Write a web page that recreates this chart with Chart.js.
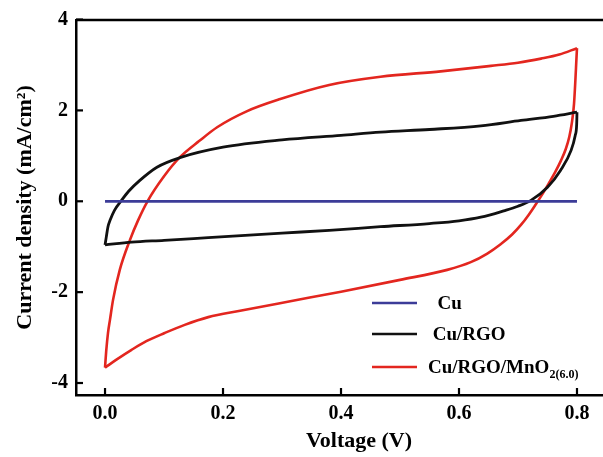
<!DOCTYPE html>
<html>
<head>
<meta charset="utf-8">
<script src="https://cdn.jsdelivr.net/npm/chart.js@4/dist/chart.umd.min.js"></script>
<style>
html,body{margin:0;padding:0;overflow:hidden;background:#fff;}
canvas{display:block;}
</style>
</head>
<body>
<canvas id="c" width="642" height="457"></canvas>
<script>
// ---- data ----
const seriesNames = ['  Cu', ' Cu/RGO', 'Cu/RGO/MnO_{2(6.0)}'];
const seriesColors = ['#3c3c98', '#111111', '#e3261f'];

// Cu (flat line)
const cuVoltage = [0, 0.2, 0.4, 0.6, 0.8];
const cuCurrent = [0, 0, 0, 0, 0];

// Cu/RGO: anodic (upper) sweep and cathodic (lower) sweep, both listed by rising voltage
const rgoUpVoltage = [0, 0.002, 0.005, 0.0085, 0.016, 0.028, 0.04, 0.059, 0.088, 0.127, 0.2, 0.3, 0.4, 0.467, 0.55, 0.637, 0.705, 0.76, 0.8];
const rgoUpCurrent = [-0.96, -0.8, -0.56, -0.42, -0.2, 0.02, 0.22, 0.46, 0.75, 0.96, 1.19, 1.35, 1.45, 1.52, 1.58, 1.66, 1.78, 1.87, 1.96];
const rgoDownVoltage = [0, 0.045, 0.1, 0.175, 0.3, 0.38, 0.467, 0.55, 0.6, 0.637, 0.676, 0.7, 0.722, 0.75, 0.772, 0.79, 0.797, 0.7995, 0.8];
const rgoDownCurrent = [-0.96, -0.9, -0.86, -0.8, -0.7, -0.64, -0.56, -0.49, -0.43, -0.35, -0.21, -0.11, 0.02, 0.31, 0.68, 1.12, 1.45, 1.7, 1.96];

// Cu/RGO/MnO2(6.0)
const mnoUpVoltage = [0, 0.002, 0.005, 0.0085, 0.0136, 0.025, 0.042, 0.056, 0.072, 0.1, 0.127, 0.16, 0.19, 0.24, 0.297, 0.38, 0.467, 0.569, 0.654, 0.7, 0.739, 0.77, 0.8];
const mnoUpCurrent = [-3.66, -3.3, -2.9, -2.6, -2.17, -1.51, -0.86, -0.42, 0, 0.55, 0.97, 1.33, 1.63, 1.98, 2.25, 2.56, 2.74, 2.86, 2.98, 3.05, 3.14, 3.23, 3.37];
const mnoDownVoltage = [0, 0.02, 0.045, 0.07, 0.101, 0.135, 0.175, 0.229, 0.314, 0.4, 0.5, 0.58, 0.62, 0.648, 0.67, 0.69, 0.705, 0.718, 0.73, 0.74, 0.752, 0.763, 0.773, 0.781, 0.787, 0.791, 0.795, 0.8];
const mnoDownCurrent = [-3.66, -3.48, -3.27, -3.08, -2.9, -2.72, -2.55, -2.41, -2.2, -1.99, -1.73, -1.51, -1.34, -1.15, -0.95, -0.73, -0.52, -0.3, -0.07, 0.13, 0.39, 0.64, 0.9, 1.15, 1.42, 1.7, 2.15, 3.37];

const voltageTicks = [0, 0.2, 0.4, 0.6, 0.8];
const currentTicks = [-4, -2, 0, 2, 4];

const FONT = 'Liberation Serif, Times New Roman, serif';

function pts(xs, ys) { return xs.map((x, i) => ({x: x, y: ys[i]})); }
function branch(series, xs, ys, width) {
  return {label: seriesNames[series], series: series, data: pts(xs, ys), borderColor: seriesColors[series],
          borderWidth: width, showLine: true, pointRadius: 0, cubicInterpolationMode: 'monotone', fill: false};
}

const datasets = [
  branch(0, cuVoltage, cuCurrent, 2.8),
  branch(1, rgoUpVoltage, rgoUpCurrent, 2.8),
  branch(1, rgoDownVoltage, rgoDownCurrent, 2.8),
  branch(2, mnoUpVoltage, mnoUpCurrent, 2.6),
  branch(2, mnoDownVoltage, mnoDownCurrent, 2.6)
];

const framePlugin = {
  id: 'frame',
  afterDraw(chart) {
    const ctx = chart.ctx, a = chart.chartArea;
    const xs = chart.scales.x, ys = chart.scales.y;
    ctx.save();
    ctx.strokeStyle = '#000';
    ctx.lineWidth = 2.5;
    // top frame line
    ctx.beginPath(); ctx.moveTo(a.left, a.top); ctx.lineTo(a.right, a.top); ctx.stroke();
    // inward tick marks
    ctx.lineWidth = 2.2;
    xs.ticks.forEach(t => {
      const px = xs.getPixelForValue(t.value);
      ctx.beginPath(); ctx.moveTo(px, a.bottom); ctx.lineTo(px, a.bottom - 7); ctx.stroke();
    });
    ys.ticks.forEach(t => {
      const py = ys.getPixelForValue(t.value);
      ctx.beginPath(); ctx.moveTo(a.left, py); ctx.lineTo(a.left + 7, py); ctx.stroke();
    });
    // legend
    const rows = [303, 334, 367];
    seriesNames.forEach((name, i) => {
      const y = rows[i];
      ctx.strokeStyle = seriesColors[i];
      ctx.lineWidth = 2.5;
      ctx.beginPath(); ctx.moveTo(372, y); ctx.lineTo(417, y); ctx.stroke();
      ctx.fillStyle = '#000';
      ctx.textBaseline = 'middle';
      ctx.textAlign = 'left';
      const m = name.match(/^(.*)_\{(.*)\}$/);
      const main = m ? m[1] : name;
      ctx.font = 'bold 19px ' + FONT;
      ctx.fillText(main, 428, y + 1);
      if (m) {
        const w = ctx.measureText(main).width;
        ctx.font = 'bold 12px ' + FONT;
        ctx.fillText(m[2], 428 + w, y + 8);
      }
    });
    ctx.restore();
  }
};

new Chart(document.getElementById('c'), {
  type: 'scatter',
  data: {datasets: datasets},
  options: {
    responsive: false,
    animation: false,
    layout: {padding: {top: 19, right: 0, bottom: 0, left: 0}},
    plugins: {legend: {display: false}, tooltip: {enabled: false}},
    scales: {
      x: {
        type: 'linear',
        min: -0.0492, max: 0.9102,
        afterBuildTicks: s => { s.ticks = voltageTicks.map(v => ({value: v})); },
        afterFit: s => { s.height = 62; },
        grid: {display: false, drawTicks: false},
        border: {display: true, color: '#000', width: 2.5},
        ticks: {color: '#000', padding: 7, font: {family: FONT, size: 20, weight: 'bold'}, callback: v => Number(v).toFixed(1)},
        title: {display: true, text: 'Voltage (V)', color: '#000', font: {family: FONT, size: 22, weight: 'bold'}, padding: {top: 0, bottom: 2}}
      },
      y: {
        type: 'linear',
        min: -4.264, max: 3.99,
        afterBuildTicks: s => { s.ticks = currentTicks.map(v => ({value: v})); },
        afterFit: s => { s.width = 76; },
        grid: {display: false, drawTicks: false},
        border: {display: true, color: '#000', width: 2.5},
        ticks: {color: '#000', padding: 8, font: {family: FONT, size: 20, weight: 'bold'}, callback: v => String(v)},
        title: {display: true, text: 'Current density (mA/cm²)', color: '#000', font: {family: FONT, size: 22, weight: 'bold'}, padding: {top: 12, bottom: 0}}
      }
    }
  },
  plugins: [framePlugin]
});
</script>
</body>
</html>
